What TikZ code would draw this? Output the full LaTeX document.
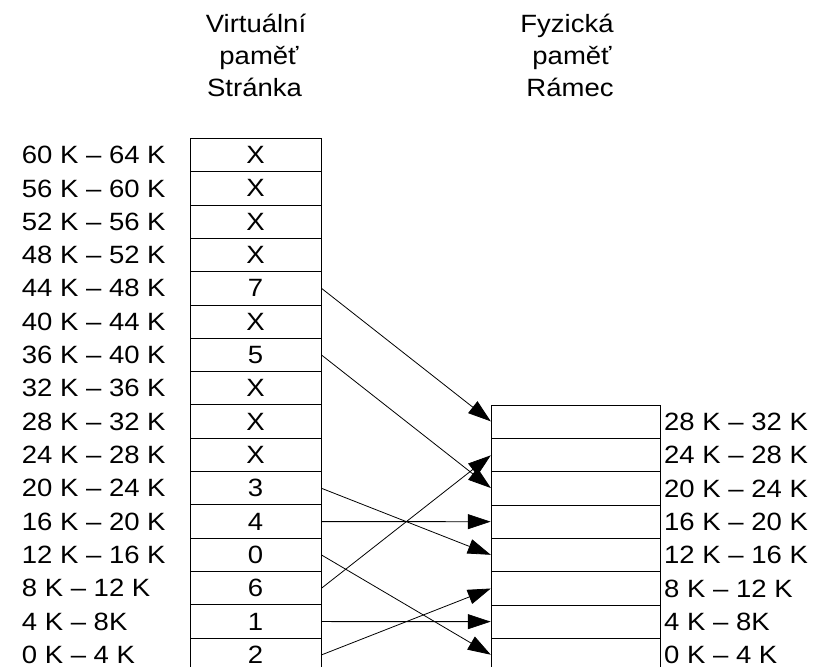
\documentclass[tikz,border=0pt]{standalone}
\usepackage{fontspec}
\setmainfont[FakeStretch=1.1]{Liberation Sans}
\usetikzlibrary{arrows.meta}
\tikzset{
  txt/.style={font=\fontsize{25}{29}\selectfont, inner sep=0pt},
  vcell/.style={txt, draw=black, line width=0.9pt, minimum width=131pt, minimum height=33.33pt},
  fcell/.style={vcell, minimum width=168.3pt},
  lbl/.style={txt, anchor=base west, text depth=0pt},
  hdr/.style={txt, anchor=base},
  arr/.style={line width=0.8pt, -{Triangle[length=23pt,width=15pt]}, shorten >=0.5pt}
}
\begin{document}
\begin{tikzpicture}[x=1pt,y=-1pt]
\useasboundingbox (0,0) rectangle (823,667);
% headers
\node[hdr] (hv1) at (256,32.3) {Virtuální};
\node[hdr] (hv2) at (259,64.5) {paměť};
\node[hdr] (hv3) at (254.5,96.7) {Stránka};
\node[hdr] (hf1) at (567,32.3) {Fyzická};
\node[hdr] (hf2) at (572,64.5) {paměť};
\node[hdr] (hf3) at (570,96.7) {Rámec};
% virtual pages
\foreach \v [count=\i from 0] in {X,X,X,X,7,X,5,X,X,X,3,4,0,6,1,2} {
  \node[vcell] (l\i) at (255.5, 138.3+33.33*\i+16.67) {\v};
}
\foreach \t [count=\i from 0] in {60 K – 64 K,56 K – 60 K,52 K – 56 K,48 K – 52 K,44 K – 48 K,40 K – 44 K,36 K – 40 K,32 K – 36 K,28 K – 32 K,24 K – 28 K,20 K – 24 K,16 K – 20 K,12 K – 16 K,8 K – 12 K,4 K – 8K,0 K – 4 K} {
  \node[lbl] (ll\i) at (21.7, 138.3+33.33*\i+16.67+8.7) {\t};
}
% physical frames
\foreach \i in {0,...,7} {
  \node[fcell] (r\i) at (575.85, 405+33.33*\i+16.67) {};
}
\foreach \t [count=\i from 0] in {28 K – 32 K,24 K – 28 K,20 K – 24 K,16 K – 20 K,12 K – 16 K,8 K – 12 K,4 K – 8K,0 K – 4 K} {
  \node[lbl] (rl\i) at (664, 405+33.33*\i+16.67+8.7) {\t};
}
% mappings
\draw[arr] (l4.east) -- (r0.west);
\draw[arr] (l6.east) -- (r2.west);
\draw[arr] (l10.east) -- (r4.west);
\draw[arr] (l11.east) -- (r3.west);
\draw[arr] (l12.east) -- (r7.west);
\draw[arr] (l13.east) -- (r1.west);
\draw[arr] (l14.east) -- (r6.west);
\draw[arr] (l15.east) -- (r5.west);
\end{tikzpicture}
\end{document}
